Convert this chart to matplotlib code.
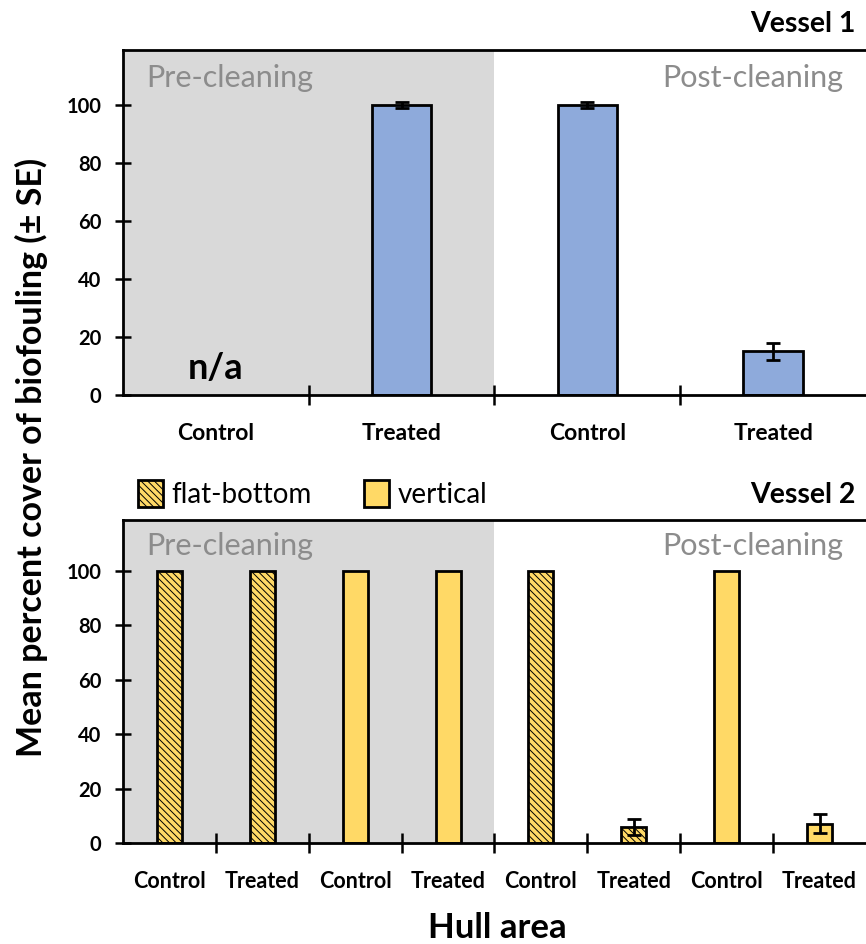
import matplotlib
matplotlib.use("Agg")
import matplotlib.pyplot as plt
import matplotlib.patches as mpatches
import numpy as np

plt.rcParams['font.family'] = ['Lato', 'DejaVu Sans']
plt.rcParams['hatch.linewidth'] = 0.7

# Vessel 1
v1_labels = ['Control', 'Treated', 'Control', 'Treated']
v1_values = [np.nan, 100, 100, 15]
v1_err = [np.nan, 1, 1, 3]

# Vessel 2
v2_labels = ['Control', 'Treated', 'Control', 'Treated', 'Control', 'Treated', 'Control', 'Treated']
v2_values = [100, 100, 100, 100, 100, 6, 100, 7]
v2_err = [0, 0, 0, 0, 0, 3, 0, 3.5]
v2_surface = ['flat-bottom', 'flat-bottom', 'vertical', 'vertical',
              'flat-bottom', 'flat-bottom', 'vertical', 'vertical']

blue = '#8EAADB'
yellow = '#FFD966'
shade = '#D9D9D9'
grey_txt = '#8C8C8C'


def style_axis(ax, n, ymax):
    ax.set_xlim(-0.5, n - 0.5)
    ax.set_ylim(0, ymax)
    ax.axvspan(-0.5, n / 2 - 0.5, color=shade, zorder=0, lw=0)
    ax.spines['right'].set_visible(False)
    for s in ['left', 'top', 'bottom']:
        ax.spines[s].set_linewidth(2)
    ax.set_yticks([0, 20, 40, 60, 80, 100])
    ax.tick_params(axis='y', direction='inout', length=11, width=1.8, labelsize=14.5, pad=10)
    for t in ax.get_yticklabels():
        t.set_fontweight('bold')
    ax.set_xticks(np.arange(n))
    ax.set_xticks(np.arange(n - 1) + 0.5, minor=True)
    ax.tick_params(axis='x', which='major', length=0, pad=20)
    ax.tick_params(axis='x', which='minor', direction='inout', length=14, width=1.8)
    ax.text(0.031, 0.92, 'Pre-cleaning', transform=ax.transAxes, color=grey_txt,
            fontsize=22, va='center', ha='left')
    ax.text(0.969, 0.92, 'Post-cleaning', transform=ax.transAxes, color=grey_txt,
            fontsize=22, va='center', ha='right')


fig = plt.figure(figsize=(8.66, 9.44), dpi=100)

# top panel
ax1 = fig.add_axes([0.1420, 0.5816, 0.858, 0.3655])
style_axis(ax1, len(v1_labels), 119)
x1 = np.arange(len(v1_labels))
ax1.bar(x1, v1_values, width=0.32, color=blue, edgecolor='black', linewidth=2, zorder=2)
ax1.errorbar(x1, v1_values, yerr=v1_err, fmt='none', ecolor='black', elinewidth=2,
             capsize=5, capthick=2, zorder=3)
ax1.set_xticklabels(v1_labels, fontsize=16.5, fontweight='bold')
ax1.text(0, 9.3, 'n/a', fontsize=26, fontweight='bold', ha='center', va='center')
fig.text(0.988, 0.9746, 'Vessel 1', fontsize=20.5, fontweight='bold', ha='right', va='center')

# bottom panel
ax2 = fig.add_axes([0.1420, 0.107, 0.858, 0.342])
style_axis(ax2, len(v2_labels), 118.7)
x2 = np.arange(len(v2_labels))
for xi, val, err, surf in zip(x2, v2_values, v2_err, v2_surface):
    hatch = '\\\\\\\\\\' if surf == 'flat-bottom' else None
    ax2.bar(xi, val, width=0.27, color=yellow, edgecolor='black', linewidth=2,
            hatch=hatch, zorder=2)
    if err > 0:
        ax2.errorbar(xi, val, yerr=err, fmt='none', ecolor='black', elinewidth=2,
                     capsize=5, capthick=2, zorder=3)
ax2.set_xticklabels(v2_labels, fontsize=15.5, fontweight='bold')
ax2.tick_params(axis='x', which='major', pad=20)
fig.text(0.988, 0.476, 'Vessel 2', fontsize=20.5, fontweight='bold', ha='right', va='center')

handles = [mpatches.Patch(facecolor=yellow, edgecolor='black', linewidth=2, hatch='\\\\\\\\\\',
                          label='flat-bottom'),
           mpatches.Patch(facecolor=yellow, edgecolor='black', linewidth=2, label='vertical')]
fig.legend(handles=handles, loc='center left', bbox_to_anchor=(0.146, 0.477), ncol=2,
           frameon=False, fontsize=20, handlelength=0.9, handleheight=1.15,
           handletextpad=0.3, columnspacing=1.9, borderaxespad=0)

fig.text(0.036, 0.515, 'Mean percent cover of biofouling (± SE)', rotation=90,
         fontsize=24.5, fontweight='bold', ha='center', va='center')
fig.text(0.574, 0.017, 'Hull area', fontsize=25, fontweight='bold', ha='center', va='center')

fig.savefig('out.png', dpi=100)
